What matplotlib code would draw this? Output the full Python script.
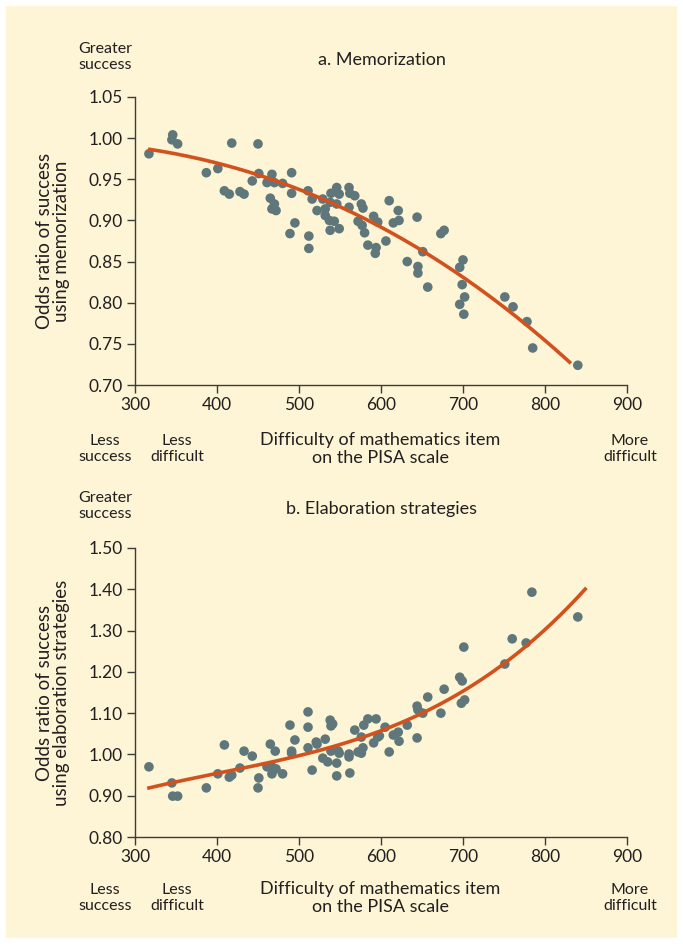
import numpy as np
import matplotlib.pyplot as plt
from matplotlib.patches import Rectangle

plt.rcParams['font.family'] = ['Lato', 'DejaVu Sans']

# panel a: memorization (item difficulty, odds ratio)
mem_x = [317, 346, 345, 352, 418, 450, 387, 401, 409, 415, 428, 433, 443, 451, 467, 461,
         470, 480, 491, 491, 465, 470, 467, 472, 495, 489, 511, 516, 512, 512, 522, 529,
         532, 532, 537, 543, 538, 549, 539, 546, 549, 546, 538, 561, 562, 568, 561, 576,
         578, 572, 577, 580, 584, 591, 594, 593, 596, 610, 621, 622, 615, 644, 606, 651,
         632, 645, 645, 657, 677, 673, 700, 696, 699, 702, 696, 701, 751, 761, 778, 785, 840]
mem_y = [0.981, 1.004, 0.998, 0.993, 0.994, 0.993, 0.958, 0.963, 0.936, 0.932, 0.935, 0.932,
         0.948, 0.957, 0.956, 0.946, 0.946, 0.945, 0.958, 0.933, 0.927, 0.920, 0.914, 0.912,
         0.897, 0.884, 0.936, 0.926, 0.881, 0.866, 0.912, 0.926, 0.914, 0.906, 0.900, 0.899,
         0.888, 0.890, 0.933, 0.940, 0.932, 0.920, 0.922, 0.940, 0.933, 0.930, 0.916, 0.920,
         0.915, 0.899, 0.894, 0.885, 0.870, 0.905, 0.867, 0.860, 0.898, 0.924, 0.912, 0.900,
         0.897, 0.904, 0.875, 0.862, 0.850, 0.844, 0.836, 0.819, 0.888, 0.884, 0.852, 0.843,
         0.822, 0.807, 0.798, 0.786, 0.807, 0.795, 0.777, 0.745, 0.724]
# trend line as drawn in the figure
mem_trend_x = [318, 375, 416, 456, 497, 538, 578, 599, 627, 652, 688, 709, 749, 778, 806, 830]
mem_trend_y = [0.986, 0.975, 0.966, 0.955, 0.940, 0.922, 0.902, 0.890, 0.877, 0.862, 0.839,
               0.824, 0.797, 0.775, 0.750, 0.725]

# panel b: elaboration strategies
ela_x = [317, 345, 346, 352, 387, 401, 409, 415, 418, 428, 433, 443, 451, 450, 465, 471,
         461, 467, 472, 467, 480, 489, 495, 491, 491, 511, 511, 511, 516, 521, 522, 532,
         529, 535, 546, 546, 538, 541, 539, 539, 548, 549, 561, 561, 568, 562, 576, 572,
         576, 578, 584, 579, 594, 591, 596, 605, 598, 610, 615, 621, 622, 632, 644, 644,
         645, 651, 657, 673, 677, 696, 699, 698, 702, 701, 751, 760, 777, 784, 840]
ela_y = [0.970, 0.931, 0.899, 0.899, 0.919, 0.953, 1.023, 0.945, 0.950, 0.967, 1.008, 0.996,
         0.943, 0.919, 1.025, 1.008, 0.970, 0.970, 0.965, 0.953, 0.953, 1.071, 1.035, 1.008,
         1.003, 1.103, 1.066, 1.016, 0.962, 1.030, 1.025, 1.037, 0.991, 0.982, 0.979, 0.948,
         1.083, 1.074, 1.069, 1.008, 1.008, 1.003, 1.001, 0.994, 1.059, 0.955, 1.042, 1.006,
         1.003, 1.016, 1.086, 1.071, 1.086, 1.028, 1.042, 1.066, 1.045, 1.006, 1.047, 1.054,
         1.032, 1.071, 1.040, 1.117, 1.108, 1.100, 1.139, 1.100, 1.158, 1.187, 1.178, 1.124,
         1.132, 1.260, 1.219, 1.280, 1.270, 1.393, 1.333]
ela_trend_x = [317, 355, 400, 436, 477, 517, 558, 587, 627, 668, 709, 751, 778, 806, 830, 849]
ela_trend_y = [0.920, 0.934, 0.952, 0.969, 0.988, 1.009, 1.031, 1.047, 1.075, 1.116, 1.160,
               1.220, 1.269, 1.321, 1.362, 1.393]

x_ticks = [300, 400, 500, 600, 700, 800, 900]
mem_ticks = [0.70, 0.75, 0.80, 0.85, 0.90, 0.95, 1.00, 1.05]
ela_ticks = [0.80, 0.90, 1.00, 1.10, 1.20, 1.30, 1.40, 1.50]

BG = '#fdf5d5'
DOT = '#5f777b'
LINE = '#d2521f'
INK = '#231f20'

fig = plt.figure(figsize=(6.83, 9.44), dpi=100, facecolor='white')
fig.patches.append(Rectangle((6 / 683, 6 / 944), 671 / 683, 932 / 944,
                             transform=fig.transFigure, facecolor=BG, edgecolor='none',
                             zorder=-10))


def panel(rect, xs, ys, tx, ty, yticks, title, ylabel, top_px):
    ax = fig.add_axes(rect)
    ax.set_facecolor('none')
    ax.scatter(xs, ys, s=48, color=DOT, edgecolor='none', zorder=3, clip_on=False)
    # smooth the read-off trend points (cubic) so the line has no kinks
    coef = np.polyfit(tx, ty, 3)
    xx = np.linspace(tx[0], tx[-1], 200)
    ax.plot(xx, np.polyval(coef, xx), color=LINE, lw=2.6, zorder=4)
    ax.set_xlim(300, 900)
    ax.set_ylim(yticks[0], yticks[-1])
    ax.set_xticks(x_ticks)
    ax.set_yticks(yticks)
    ax.set_yticklabels(['%.2f' % t for t in yticks])
    for s in ['top', 'right']:
        ax.spines[s].set_visible(False)
    for s in ['left', 'bottom']:
        ax.spines[s].set_color('#3c3c3c')
        ax.spines[s].set_linewidth(1.0)
    ax.tick_params(axis='both', colors='#3c3c3c', labelcolor=INK, labelsize=12.5,
                   length=6, width=1.0, direction='out', pad=3)
    ax.set_ylabel(ylabel, fontsize=13.5, color=INK, labelpad=13, linespacing=1.0)

    def fy(px):
        return 1 - px / 944

    fig.text(105 / 683, fy(top_px), 'Greater\nsuccess', ha='center', va='center',
             fontsize=11.5, color=INK, linespacing=1.2)
    fig.text(382 / 683, fy(top_px + 3), title, ha='center', va='center',
             fontsize=13, color=INK)
    low = top_px + 392
    fig.text(105 / 683, fy(low), 'Less\nsuccess', ha='center', va='center',
             fontsize=11.5, color=INK, linespacing=1.2)
    fig.text(177 / 683, fy(low), 'Less\ndifficult', ha='center', va='center',
             fontsize=11.5, color=INK, linespacing=1.2)
    fig.text(380 / 683, fy(low), 'Difficulty of mathematics item\non the PISA scale',
             ha='center', va='center', fontsize=13, color=INK, linespacing=1.1)
    fig.text(630 / 683, fy(low), 'More\ndifficult', ha='center', va='center',
             fontsize=11.5, color=INK, linespacing=1.2)
    return ax


panel([135 / 683, 559 / 944, 492 / 683, 288 / 944], mem_x, mem_y, mem_trend_x, mem_trend_y,
      mem_ticks, 'a. Memorization', 'Odds ratio of success\nusing memorization', 57)
panel([135 / 683, 107 / 944, 492 / 683, 289 / 944], ela_x, ela_y, ela_trend_x, ela_trend_y,
      ela_ticks, 'b. Elaboration strategies',
      'Odds ratio of success\nusing elaboration strategies', 506)

fig.savefig('out.png', dpi=100, facecolor='white')
